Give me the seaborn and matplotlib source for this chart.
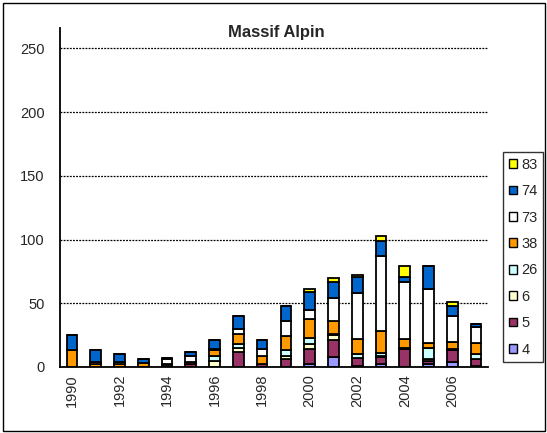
import numpy as np
import pandas as pd
import matplotlib
matplotlib.use("Agg")
import matplotlib.pyplot as plt
from matplotlib.patches import Rectangle
import seaborn as sns

years = list(range(1990, 2008))

# Values per series (stacked from "4" at the bottom to "83" at the top)
s4 = [0, 0, 0, 0, 0, 0, 0, 0, 0, 0, 2, 8, 1, 2, 0, 2, 4, 1]
s5 = [0, 0, 0, 0, 1, 2, 0, 12, 2, 6, 12, 13, 6, 6, 14, 3, 9, 5]
s6 = [0, 0, 0, 0, 0, 0, 5, 3, 0, 3, 4, 4, 0, 1, 0, 1, 1, 0]
s26 = [0, 0, 0, 0, 0, 0, 4, 3, 0, 4, 5, 1, 3, 2, 1, 9, 0, 4]
s38 = [13, 2, 2, 3, 1, 2, 4, 8, 7, 11, 15, 10, 12, 17, 7, 4, 6, 9]
s73 = [0, 2, 2, 0, 4, 5, 1, 4, 5, 12, 7, 18, 36, 59, 45, 42, 20, 12]
s74 = [12, 9, 6, 3, 1, 3, 7, 10, 7, 12, 14, 13, 13, 12, 4, 18, 8, 3]
s83 = [0, 0, 0, 0, 0, 0, 0, 0, 0, 0, 2, 3, 1, 4, 8, 0, 3, 0]

series_names = ["83", "74", "73", "38", "26", "6", "5", "4"]
series_values = [s83, s74, s73, s38, s26, s6, s5, s4]
series_colors = ["#FFFF00", "#0066CC", "#FFFFFF", "#FF9900",
                 "#CCFFFF", "#FFFFCC", "#993366", "#9999FF"]

y_ticks = [0, 50, 100, 150, 200, 250]
x_labels = [str(y) for y in years[::2]]

rows = []
for name, vals in zip(series_names, series_values):
    for yr, v in zip(years, vals):
        rows.append({"year": yr, "value": v, "series": name})
df = pd.DataFrame(rows)

sns.set_style("white")
plt.rcParams["font.family"] = ["Liberation Sans", "DejaVu Sans"]

W, H = 547, 433
fig = plt.figure(figsize=(W / 100, H / 100), dpi=100)
ax = fig.add_axes([60 / W, (H - 367) / H, 428 / W, (367 - 28) / H])

sns.histplot(
    data=df, x="year", weights="value", hue="series",
    hue_order=series_names, palette=dict(zip(series_names, series_colors)),
    multiple="stack", discrete=True, shrink=0.45, alpha=1,
    edgecolor="black", linewidth=1.3, ax=ax, legend=True,
)

ax.set_xlim(1989.5, 2007.5)
ax.set_ylim(0, 266)
ax.set_yticks(y_ticks)
ax.set_yticklabels([str(t) for t in y_ticks], fontsize=10.5)
ax.set_xticks(years[::2])
ax.set_xticklabels(x_labels, rotation=90, fontsize=10.5)
ax.set_xticks(np.arange(1989.5, 2008.0, 1.0), minor=True)
ax.tick_params(axis="x", which="major", length=0, pad=5)
ax.tick_params(axis="x", which="minor", length=5, width=1.2, direction="out", color="black")
ax.tick_params(axis="y", which="major", length=5, width=1.2, direction="out", color="black", pad=6)
ax.set_xlabel("")
ax.set_ylabel("")

for t in y_ticks[1:]:
    ax.axhline(t, color="black", linewidth=0.9, linestyle=(0, (1.5, 1)), zorder=0)

for side in ["top", "right"]:
    ax.spines[side].set_visible(False)
for side in ["left", "bottom"]:
    ax.spines[side].set_color("black")
    ax.spines[side].set_linewidth(1.3)

fig.text(276 / W, 1 - 33 / H, "Massif Alpin", ha="center", va="center",
         fontsize=12, fontweight="bold")

sns.move_legend(
    ax, "upper left", bbox_to_anchor=(503 / W, 1 - 152 / H),
    bbox_transform=fig.transFigure, title=None, frameon=True,
    fontsize=10.5, handlelength=0.55, handleheight=0.55, handletextpad=0.3,
    labelspacing=0.85, borderpad=0.4, borderaxespad=0, fancybox=False,
)
leg = ax.get_legend()
leg.get_frame().set_edgecolor("black")
leg.get_frame().set_linewidth(1.0)
for h in leg.legend_handles:
    h.set_edgecolor("black")
    h.set_linewidth(1.0)

fig.patches.append(Rectangle((2.5 / W, 2.5 / H), (W - 5) / W, (H - 5) / H,
                             transform=fig.transFigure, fill=False,
                             edgecolor="black", linewidth=1.0))

fig.savefig("out.png", dpi=100)
